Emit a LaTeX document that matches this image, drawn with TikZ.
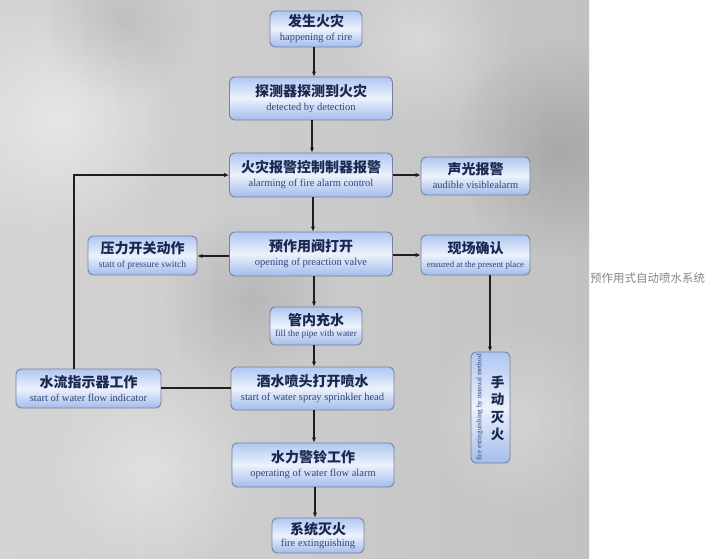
\documentclass[tikz,border=0pt]{standalone}
\usepackage{fontspec}
\setmainfont{Liberation Serif}
\newfontfamily\cjk{Noto Sans CJK SC}
\usetikzlibrary{arrows.meta,fadings}
\tikzfading[name=softspot, inner color=transparent!0, outer color=transparent!100]
\definecolor{boxedge}{HTML}{76829A}
\definecolor{boxtop}{HTML}{AFC7F1}
\definecolor{boxmid}{HTML}{EDF2FC}
\definecolor{boxbot}{HTML}{A2BCEB}
\definecolor{cntext}{HTML}{1A2750}
\definecolor{entext}{HTML}{34447A}
\definecolor{linecol}{HTML}{1E1E1E}
\definecolor{bgbase}{HTML}{C2C2C2}
\definecolor{bglight}{HTML}{D4D4D4}
\definecolor{captioncol}{HTML}{858585}
\tikzset{
  x=1pt, y=-1pt,
  flowbox/.style={draw=boxedge, line width=0.9pt, rounded corners=5pt,
    top color=boxtop, bottom color=boxbot, middle color=boxmid,
    align=center, inner sep=0pt},
  conn/.style={draw=linecol, line width=1.2pt},
  arr/.style={conn, -{Latex[length=5pt,width=4.5pt]}},
}
\newcommand{\cn}[1]{{\cjk\bfseries\fontsize{14}{15}\selectfont\color{cntext}#1}}
\newcommand{\en}[1]{{\fontsize{10.5}{11}\selectfont\color{entext}#1}}
\newcommand{\twolines}[2]{\cn{#1}\\[2pt]\en{#2}}
\begin{document}
\begin{tikzpicture}
\useasboundingbox (0,0) rectangle (718,559);
% background photo approximation
\fill[left color=bglight, right color=bgbase] (0,0) rectangle (589,559);
\begin{scope}
\clip (0,0) rectangle (589,559);
\fill[white, opacity=0.45, path fading=softspot] (60,120) circle (120);
\fill[white, opacity=0.35, path fading=softspot] (150,470) circle (110);
\fill[white, opacity=0.30, path fading=softspot] (420,40) circle (90);
\fill[black, opacity=0.14, path fading=softspot] (560,150) circle (110);
\fill[black, opacity=0.10, path fading=softspot] (250,300) circle (90);
\fill[white, opacity=0.25, path fading=softspot] (520,420) circle (100);
\fill[black, opacity=0.08, path fading=softspot] (120,20) circle (80);
\end{scope}

% nodes
\node[flowbox, minimum width=92, minimum height=36] (fire) at (316,29)
  {\twolines{发生火灾}{happening of rire}};
\node[flowbox, minimum width=163, minimum height=43] (detect) at (311,98.5)
  {\twolines{探测器探测到火灾}{detected by detection}};
\node[flowbox, minimum width=163, minimum height=44] (alarm) at (311,175)
  {\twolines{火灾报警控制制器报警}{alarming of fire alarm control}};
\node[flowbox, minimum width=109, minimum height=38] (audible) at (475.5,176)
  {\twolines{声光报警}{audible visiblealarm}};
\node[flowbox, minimum width=163, minimum height=44] (valve) at (311,254)
  {\twolines{预作用阀打开}{opening of preaction valve}};
\node[flowbox, minimum width=109, minimum height=39] (pressure) at (142.5,255.5)
  {\cn{压力开关动作}\\[2pt]{\fontsize{9.5}{11}\selectfont\color{entext}statt of pressure switch}};
\node[flowbox, minimum width=109, minimum height=40] (confirm) at (475.5,255)
  {\cn{现场确认}\\[2pt]{\fontsize{8.8}{11}\selectfont\color{entext}ensured at the present place}};
\node[flowbox, minimum width=92, minimum height=38] (fill) at (316,326)
  {\cn{管内充水}\\[-1pt]{\fontsize{9.2}{10}\selectfont\color{entext}fill the pipe vith water}};
\node[flowbox, minimum width=163, minimum height=43] (sprinkler) at (312.5,388.5)
  {\twolines{酒水喷头打开喷水}{start of water spray sprinkler head}};
\node[flowbox, minimum width=145, minimum height=39] (flow) at (88.5,388.5)
  {\twolines{水流指示器工作}{start of water flow indicator}};
\node[flowbox, minimum width=39, minimum height=111] (manual) at (490.5,407.5) {};
\node[rotate=90, inner sep=0pt, text=entext, font=\fontsize{7.2}{8}\selectfont] (manualen)
  at ([xshift=-11pt]manual.center) {fire extinguishing by manual method};
\node[align=center, inner sep=0pt, text=cntext, font=\cjk\bfseries\fontsize{13.5}{17.5}\selectfont] (manualcn)
  at ([xshift=7pt,yshift=-1pt]manual.center) {手\\动\\灭\\火};
\node[flowbox, minimum width=162, minimum height=44] (bell) at (313,465)
  {\twolines{水力警铃工作}{operating of water flow alarm}};
\node[flowbox, minimum width=92, minimum height=35] (out) at (318,535.5)
  {\cn{系统灭火}\\[0pt]\en{fire extinguishing}};

% caption
\node[anchor=west, inner sep=0pt, text=captioncol, font=\cjk\fontsize{11.5}{13}\selectfont] (caption)
  at (590,278) {预作用式自动喷水系统};

% connectors
\draw[arr] (fire.south -| 314,0) -- (detect.north -| 314,0);
\draw[arr] (detect.south -| 312,0) -- (alarm.north -| 312,0);
\draw[arr] (alarm.east |- 0,175) -- (audible.west |- 0,175);
\draw[arr] (alarm.south -| 313,0) -- (valve.north -| 313,0);
\draw[arr] (valve.west |- 0,256) -- (pressure.east |- 0,256);
\draw[arr] (valve.east |- 0,255) -- (confirm.west |- 0,255);
\draw[arr] (confirm.south -| 490,0) -- (manual.north -| 490,0);
\draw[arr] (valve.south -| 314,0) -- (fill.north -| 314,0);
\draw[arr] (fill.south -| 314,0) -- (sprinkler.north -| 314,0);
\draw[conn] (sprinkler.west |- 0,388) -- (flow.east |- 0,388);
\draw[arr] (flow.north -| 74,0) -- (74,175) -- (alarm.west |- 0,175);
\draw[arr] (sprinkler.south -| 314,0) -- (bell.north -| 314,0);
\draw[arr] (bell.south -| 315,0) -- (out.north -| 315,0);
\end{tikzpicture}
\end{document}
